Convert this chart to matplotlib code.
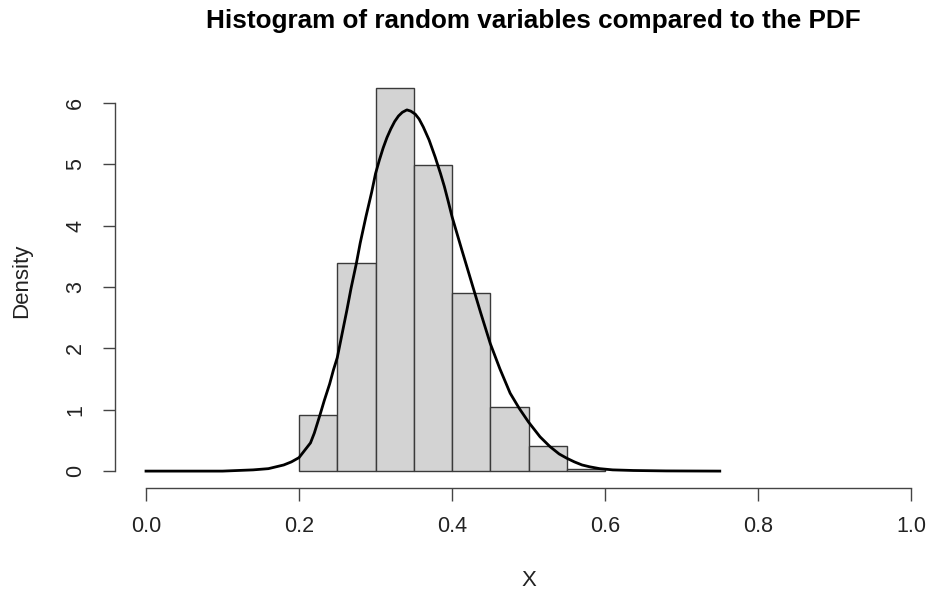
import matplotlib
matplotlib.use("Agg")
import matplotlib.pyplot as plt

plt.rcParams["font.family"] = ["Liberation Sans", "DejaVu Sans"]

# histogram bins (left edges) and densities
bin_left = [0.20, 0.25, 0.30, 0.35, 0.40, 0.45, 0.50, 0.55]
bin_width = 0.05
density = [0.92, 3.39, 6.24, 4.99, 2.90, 1.04, 0.41, 0.04]

# PDF curve, points
pdf_x = [0.00, 0.10, 0.14, 0.16, 0.18, 0.19, 0.20, 0.205, 0.215, 0.22,
         0.2275, 0.233, 0.24, 0.245, 0.25, 0.256, 0.2625, 0.268, 0.275,
         0.28, 0.2875, 0.295, 0.30, 0.305, 0.31, 0.315, 0.32, 0.325,
         0.33, 0.335, 0.341, 0.346, 0.352, 0.357, 0.3625, 0.37, 0.378,
         0.385, 0.39, 0.395, 0.40, 0.4125, 0.425, 0.4375, 0.45, 0.4625,
         0.476, 0.488, 0.50, 0.515, 0.528, 0.54, 0.55, 0.56, 0.57, 0.58,
         0.593, 0.61, 0.637, 0.68, 0.75]
pdf_y = [0.0, 0.0, 0.02, 0.04, 0.10, 0.15, 0.22, 0.30, 0.46, 0.62,
         0.92, 1.15, 1.42, 1.65, 1.85, 2.22, 2.62, 2.98, 3.39,
         3.72, 4.15, 4.55, 4.85, 5.07, 5.27, 5.44, 5.58, 5.70,
         5.79, 5.85, 5.89, 5.87, 5.82, 5.74, 5.61, 5.40, 5.12,
         4.85, 4.64, 4.40, 4.15, 3.62, 3.10, 2.58, 2.08, 1.67,
         1.27, 1.02, 0.80, 0.56, 0.40, 0.28, 0.21, 0.15, 0.10, 0.07,
         0.04, 0.02, 0.01, 0.003, 0.0]

x_ticks = [0.0, 0.2, 0.4, 0.6, 0.8, 1.0]
y_ticks = [0, 1, 2, 3, 4, 5, 6]

fig = plt.figure(figsize=(9.3, 5.93), dpi=100)
ax = fig.add_axes([0.1241, 0.1766, 0.8884, 0.7012])

ax.bar(bin_left, density, width=bin_width, align="edge",
       color="#d3d3d3", edgecolor="#3a3a3a", linewidth=1.0)
ax.plot(pdf_x, pdf_y, color="black", linewidth=2.0)

ax.set_xlim(-0.04, 1.04)
ax.set_ylim(-0.28, 6.5)

for side in ["top", "right"]:
    ax.spines[side].set_visible(False)
ax.spines["bottom"].set_bounds(0, 1)
ax.spines["left"].set_bounds(0, 6)
for side in ["bottom", "left"]:
    ax.spines[side].set_color("#444444")
    ax.spines[side].set_linewidth(1.0)

ax.set_xticks(x_ticks)
ax.set_xticklabels([f"{v:.1f}" for v in x_ticks])
ax.set_yticks(y_ticks)
ax.set_yticklabels([str(v) for v in y_ticks], rotation=90, va="center")
ax.tick_params(axis="both", length=9, width=1.0, color="#444444",
               labelsize=15.5, labelcolor="#222222")
ax.tick_params(axis="x", pad=11)
ax.tick_params(axis="y", pad=12)

ax.set_xlabel("X", fontsize=16, color="#222222", labelpad=24)
ax.set_ylabel("Density", fontsize=16, color="#222222", labelpad=24)

fig.suptitle("Histogram of random variables compared to the PDF",
             x=0.574, y=0.985, fontsize=18.8, fontweight="bold")

fig.savefig("out.png", dpi=100)
plt.close()
